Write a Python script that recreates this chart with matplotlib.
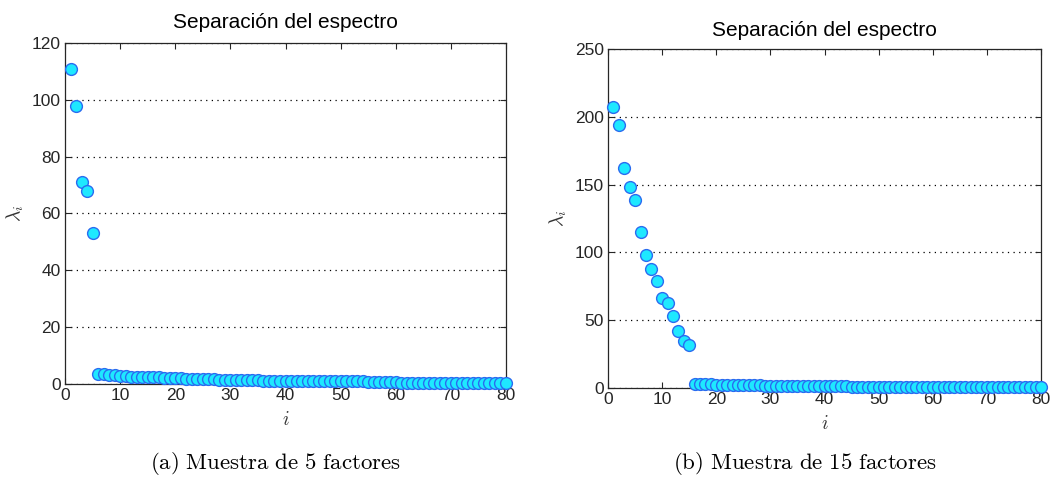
import matplotlib
matplotlib.use("Agg")
import matplotlib.pyplot as plt

# eigenvalues, 5-factor sample
lam_a = [111, 98, 71, 68, 53,
         3.6, 3.4, 3.2, 3.0, 2.8, 2.7, 2.6, 2.6, 2.5, 2.4,
         2.3, 2.3, 2.2, 2.2, 2.1, 2.0, 1.9, 1.9, 1.8, 1.8,
         1.8, 1.7, 1.5, 1.5, 1.5, 1.5, 1.4, 1.4, 1.4, 1.4,
         1.2, 1.2, 1.2, 1.2, 1.2, 1.2, 1.2, 1.1, 1.1, 1.1,
         0.9, 0.9, 0.9, 0.9, 0.9, 0.9, 0.9, 0.9, 0.9, 0.8,
         0.8, 0.8, 0.8, 0.8, 0.8, 0.4, 0.4, 0.4, 0.4, 0.4,
         0.4, 0.4, 0.4, 0.4, 0.4, 0.4, 0.4, 0.4, 0.4, 0.4,
         0.4, 0.4, 0.4, 0.4, 0.4]
# eigenvalues, 15-factor sample
lam_b = [207, 194, 162, 148, 139, 115, 98, 88, 79, 66,
         63, 53, 42, 35, 32,
         3.3, 3.2, 3.0, 2.6, 2.5, 2.5, 2.4, 2.4, 2.4, 2.3,
         2.3, 2.3, 2.2, 1.6, 1.6, 1.6, 1.5, 1.5, 1.5, 1.5,
         1.5, 1.4, 1.4, 1.4, 1.4, 1.4, 1.3, 1.3, 1.3, 0.8,
         0.8, 0.8, 0.8, 0.8, 0.8, 0.8, 0.7, 0.7, 0.7, 0.7,
         0.7, 0.7, 0.7, 0.7, 0.7, 0.6, 0.6, 0.6, 0.6, 0.6,
         0.6, 0.6, 0.6, 0.6, 0.5, 0.5, 0.5, 0.5, 0.5, 0.5,
         0.5, 0.5, 0.5, 0.5, 0.5]
idx = list(range(1, 81))

ylim_a, yticks_a = 120, [0, 20, 40, 60, 80, 100, 120]
ylim_b, yticks_b = 250, [0, 50, 100, 150, 200, 250]
captions = ["(a)\\ Muestra\\ de\\ 5\\ factores", "(b)\\ Muestra\\ de\\ 15\\ factores"]

plt.rcParams['font.family'] = ['Liberation Sans', 'DejaVu Sans']
plt.rcParams['mathtext.fontset'] = 'cm'

fig = plt.figure(figsize=(10.52, 4.78), dpi=100)
ax1 = fig.add_axes([0.0618, 0.1967, 0.4192, 0.7133])
ax2 = fig.add_axes([0.578, 0.1883, 0.4115, 0.7092])

for ax, lam, top, yt, cap, cx, tpad in [(ax1, lam_a, ylim_a, yticks_a, captions[0], 0.262, 11),
                                        (ax2, lam_b, ylim_b, yticks_b, captions[1], 0.765, 9)]:
    ax.plot(idx, lam, 'o', markersize=8.5, markerfacecolor='#1ee8ff',
            markeredgecolor='#2a6cf0', markeredgewidth=1.0, clip_on=False, zorder=3)
    ax.set_xlim(0, 80)
    ax.set_ylim(0, top)
    ax.set_xticks(range(0, 81, 10))
    ax.set_yticks(yt)
    ax.yaxis.grid(True, linestyle=(0, (1, 3.5)), color='black', linewidth=0.9)
    ax.tick_params(direction='in', top=True, right=True, length=4,
                   labelsize=12.5, colors='#262626', pad=3)
    for s in ax.spines.values():
        s.set_color('#262626')
        s.set_linewidth(0.9)
    ax.set_title('Separación del espectro', fontsize=15, pad=tpad)
    ax.set_xlabel('$i$', fontsize=14, color='#333333', labelpad=6)
    ax.set_ylabel('$\\lambda_i$', fontsize=14, color='#333333', labelpad=4)
    fig.text(cx, 0.018, '$\\mathrm{' + cap + '}$', fontsize=16.5, ha='center')

fig.savefig('out.png', dpi=100)
